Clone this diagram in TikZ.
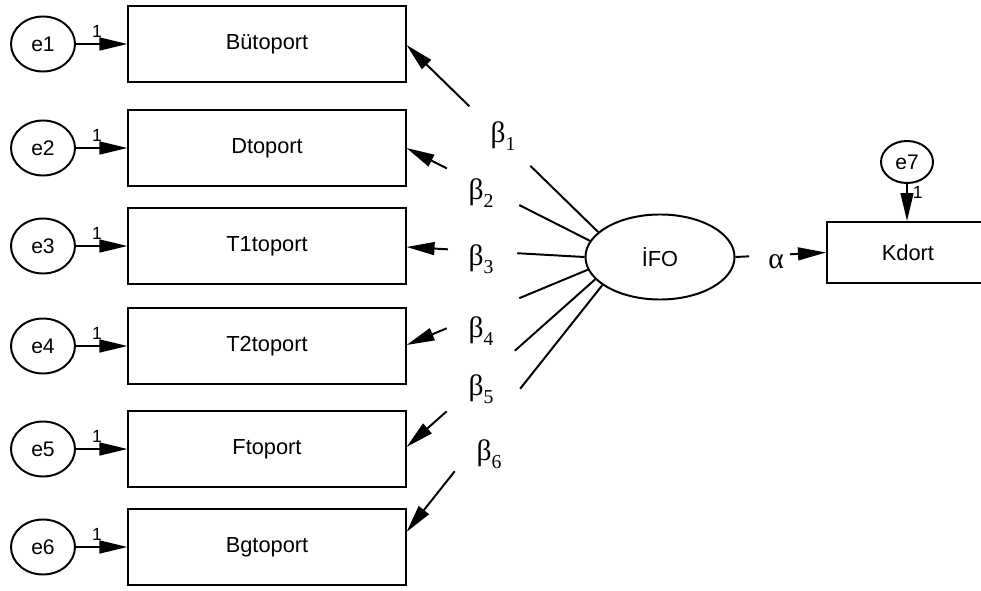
\documentclass[tikz,border=0pt]{standalone}
\usepackage{fontspec}
\setmainfont{Liberation Sans}
\newfontfamily\grkfont{Liberation Serif}
\usetikzlibrary{arrows.meta,calc,shapes.geometric}

\tikzset{
  obs/.style={draw, rectangle, minimum width=6.925cm, minimum height=1.9cm, font=\fontsize{15.5}{18}\selectfont},
  err/.style={draw, ellipse, minimum width=1.6cm, minimum height=1.375cm, inner sep=0pt, font=\fontsize{15}{18}\selectfont},
  lat/.style={draw, ellipse, minimum width=3.725cm, minimum height=2.125cm, inner sep=0pt, font=\fontsize{15.5}{18}\selectfont},
  arr/.style={-{Triangle[length=7mm,width=3.2mm]}},
  one/.style={font=\fontsize{12.5}{14}\selectfont, inner sep=1pt},
  coef/.style={font=\grkfont\fontsize{21}{24}\selectfont, inner sep=0pt}
}
\newcommand{\sbs}[1]{\raisebox{-0.28em}{\fontsize{14}{14}\selectfont #1}}

\begin{document}
\begin{tikzpicture}[x=0.025cm, y=-0.025cm, line width=1.4pt]
    \useasboundingbox (0,0) rectangle (981,591);

    % latent variable, outcome and its error
    \node[lat] (ifo) at (660,257) {İFO};
    \node[obs, minimum width=4.05cm, minimum height=1.525cm] (kd) at (908,252.5) {Kdort};
    \node[err, minimum width=1.3cm, minimum height=1.05cm] (e7) at (907,162) {e7};

    % indicators with their error terms
    \foreach \i/\name/\y in {1/Bütoport/44, 2/Dtoport/148, 3/T1toport/246, 4/T2toport/346, 5/Ftoport/449, 6/Bgtoport/547} {
        \node[obs] (v\i) at (267,\y) {\name};
        \node[err] (e\i) at (43,\y) {e\i};
        \draw[arr] (e\i) -- node[one, pos=0.41, above=3pt] {1} (v\i);
    }

    % loadings, broken where the coefficients sit
    \foreach \i/\a/\dy/\p/\q in {1/158/1/0.354/0.672, 2/167/0/0.385/0.78, 3/180/1/0.378/0.767, 4/190/-1/0.378/0.778, 5/199/-2/0.426/0.787, 6/206/-15/0.42/0.754} {
        \coordinate (t\i) at ($(v\i.east)+(0,\dy)$);
        \draw (ifo.\a) -- ($(ifo.\a)!\p!(t\i)$);
        \draw[arr] ($(ifo.\a)!\q!(t\i)$) -- (t\i);
    }
    \foreach \i/\x/\y in {1/503/136, 2/481/193, 3/481/259, 4/481/331, 5/481/389, 6/489/454}
        \node[coef] (b\i) at (\x,\y) {β\sbs{\i}};

    % structural path
    \draw (ifo.east) -- ($(ifo.east)!0.15!(kd.west)$);
    \draw[arr] ($(ifo.east)!0.6!(kd.west)$) -- (kd.west);
    \node[coef] (al) at (776,262) {α};

    \draw[arr] (e7.south) -- node[one, pos=0.22, right=2.5pt] {1} (e7.south |- kd.north);
\end{tikzpicture}
\end{document}
